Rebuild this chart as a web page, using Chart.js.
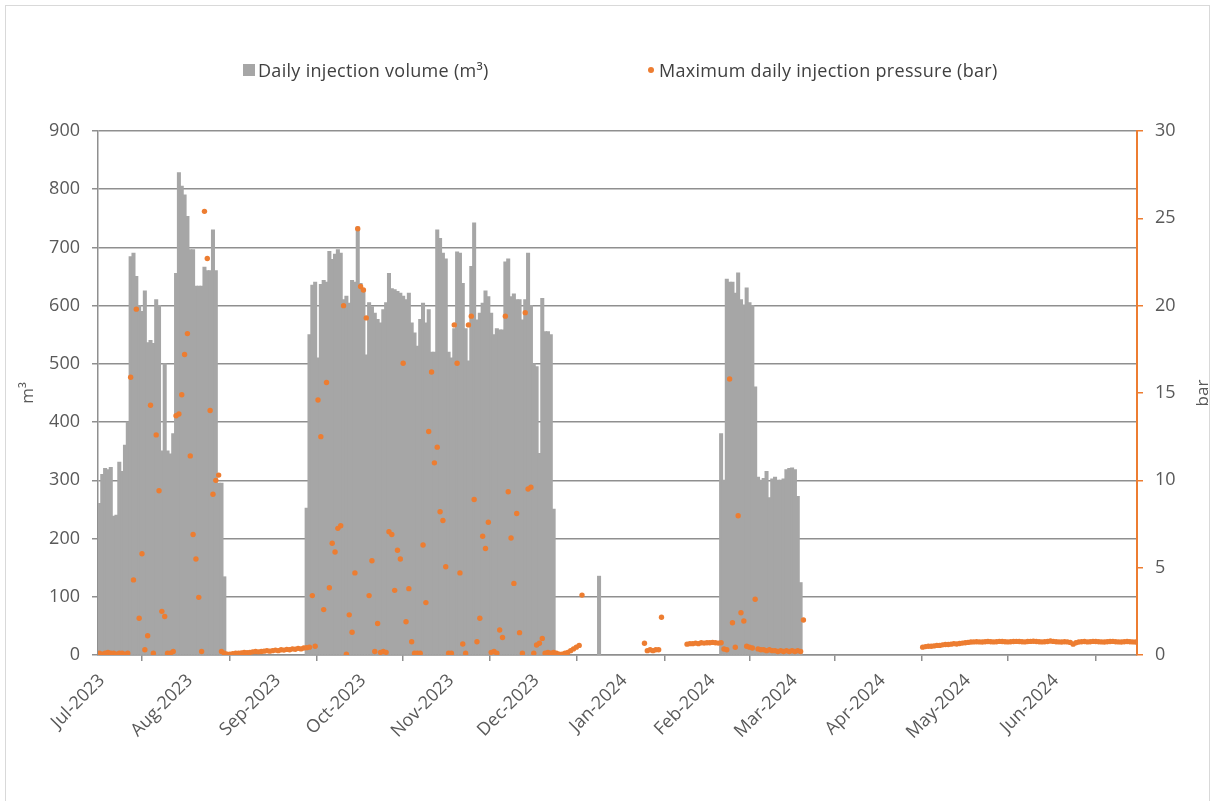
<!DOCTYPE html>
<html>
<head>
<meta charset="utf-8">
<script src="https://cdn.jsdelivr.net/npm/chart.js@4.4.1/dist/chart.umd.min.js"></script>
<style>
  html, body { margin: 0; padding: 0; background: #ffffff; }
  #wrap { position: relative; width: 1215px; height: 801px; overflow: hidden; }
  #frame { position: absolute; left: 5px; top: 5px; width: 1205px; height: 800px; border: 1px solid #d9d9d9; box-sizing: border-box; }
  canvas { position: absolute; left: 0; top: 0; }
  #legend { position: absolute; left: 0; top: 57px; width: 1215px; height: 26px; font-family: 'Open Sans', sans-serif; font-size: 18px; letter-spacing: 0.3px; color: #404040; }
  .item { position: absolute; top: 0; line-height: 26px; white-space: nowrap; }
  .sq { position: absolute; width: 12px; height: 12px; background: #a6a6a6; top: 7px; }
  .dot { position: absolute; width: 6px; height: 6px; border-radius: 50%; background: #ed7d31; top: 10px; }
</style>
</head>
<body>
<div id="wrap">
  <div id="frame"></div>
  <canvas id="c" width="1215" height="801"></canvas>
  <div id="legend">
    <div class="sq" style="left:243px"></div>
    <div class="item" style="left:258px">Daily injection volume (m³)</div>
    <div class="dot" style="left:648px"></div>
    <div class="item" style="left:659px">Maximum daily injection pressure (bar)</div>
  </div>
</div>
<script>
// ---- tick labels / month starts (day index from 1 Jul 2023) ----
const tickLabels = ['Jul-2023','Aug-2023','Sep-2023','Oct-2023','Nov-2023','Dec-2023','Jan-2024','Feb-2024','Mar-2024','Apr-2024','May-2024','Jun-2024'];
const monthStarts = [0,31,62,92,123,153,184,215,244,275,305,336];
const N = 366;
const _ = null;

// ---- Daily injection volume (m3), one value per day, by month ----
const volJul = [260,310,320,318,322,238,240,331,315,360, 400,684,690,650,600,590,625,536,540,535, 610,600,350,500,350,345,380,655,828,805, 790];
const volAug = [753,696,696,633,633,633,666,660,660,730,660,295,295,134, _,_,_,_,_,_,_,_,_,_,_,_,_,_,_,_,_];
const volSep = [_,_,_,_,_,_,_,_,_,_,_, 252,550,635,640,510,636,643,640,693,679,688,696,690,610,616,604,643,640,735];
const volOct = [638,627,515,605,598,587,576,570,593,605, 655,629,627,624,621,616,610,621,570,553, 530,576,604,570,593,520,520,730,715,690, 680];
const volNov = [520,510,560,692,690,638,560,505,667,742, 575,587,604,625,615,587,550,560,558,558, 675,680,615,620,610,610,575,610,690,600];
const volDec = [500,495,346,612,555,555,550,250, _,_,_,_,_,_,_,_,_,_,_,_,_,_,_, 135, _,_,_,_,_,_,_];
const volJan = new Array(31).fill(null);
const volFeb = [_,_,_,_, 380,300,645,640,640,621,656,610,601,630, 605,600,460,305,300,303,315,270,302,305, 300,300,302,318,320];
const volMar = [321,318,272,124, _,_,_,_,_,_,_,_,_,_,_,_,_,_,_,_,_,_,_,_,_,_,_,_,_,_,_];
const volApr = new Array(30).fill(null);
const volMay = new Array(31).fill(null);
const volJun = new Array(30).fill(null);

// ---- Maximum daily injection pressure (bar), one value per day, by month ----
const prsJul = [0.1,0.05,0.1,0.15,0.1,0.1,0.05,0.1,0.1,0.05, 0.1,15.9,4.3,19.8,2.1,5.8,0.3,1.1,14.3,0.1, 12.6,9.4,2.5,2.2,0.1,0.1,0.2,13.7,13.8,14.9, 17.2];
const prsAug = [18.4,11.4,6.9,5.5,3.3,0.2,25.4,22.7,14.0,9.2, 10.0,10.3,0.2,0.1,0.05,0.05,0.08,0.1,0.1,0.12, 0.15,0.13,0.15,0.18,0.2,0.18,0.2,0.22,0.25,0.22, 0.25];
const prsSep = [0.28,0.25,0.3,0.28,0.32,0.3,0.35,0.33,0.38,0.35, 0.4,0.42,0.45,3.4,0.5,14.6,12.5,2.6,15.6,3.85, 6.4,5.9,7.25,7.4,20.0,0.05,2.3,1.3,4.7,24.4];
const prsOct = [21.1,20.9,19.3,3.4,5.4,0.2,1.8,0.15,0.2,0.15, 7.06,6.9,3.7,6.0,5.5,16.7,1.9,3.8,0.76,0.1, 0.1,0.1,6.3,3.0,12.8,16.2,11.0,11.9,8.2,7.7, 5.05];
const prsNov = [0.1,0.1,18.9,16.7,4.7,0.63,0.1,18.9,19.4,8.9, 0.76,2.1,6.8,6.1,7.6,0.15,0.2,0.1,1.43,1.0, 19.4,9.35,6.7,4.1,8.1,1.28,0.1,19.6,9.5,9.6];
const prsDec = [0.1,0.57,0.67,0.95,0.1,0.15,0.1,0.15,0.1,0.05, 0.05,0.1,0.15,0.25,0.35,0.45,0.55,3.43, _,_,_,_,_,_,_,_,_,_,_,_,_];
const prsJan = [_,_,_,_,_,_,_,_, 0.67,0.25,0.3,0.25,0.3,0.3,2.16, _,_,_,_,_,_,_,_, 0.62,0.65,0.65,0.68,0.65,0.7,0.68,0.7];
const prsFeb = [0.7,0.72,0.7,0.68,0.7,0.34,0.3,15.8,1.85,0.44, 7.97,2.42,1.95,0.5,0.45,0.4,3.19,0.35,0.3,0.3, 0.25,0.3,0.25,0.25,0.2,0.25,0.2,0.25,0.2];
const prsMar = [0.25,0.2,0.25,0.2,2.0, _,_,_,_,_,_,_,_,_,_,_,_,_,_,_,_,_,_,_,_,_,_,_,_,_,_];
const prsApr = [_,_,_,_,_,_,_,_,_,_,_,_,_,_,_, 0.45,0.48,0.5,0.5,0.52,0.55,0.55,0.58,0.6,0.6, 0.62,0.65,0.63,0.66,0.68];
const prsMay = [0.7,0.72,0.74,0.75,0.76,0.75,0.74,0.76,0.77,0.76, 0.75,0.76,0.78,0.77,0.76,0.75,0.76,0.77,0.78,0.77, 0.76,0.75,0.77,0.78,0.79,0.77,0.76,0.75,0.76,0.77, 0.8];
const prsJun = [0.78,0.76,0.75,0.74,0.76,0.75,0.72,0.62,0.7,0.74, 0.76,0.77,0.75,0.76,0.78,0.77,0.76,0.75,0.74,0.76, 0.77,0.78,0.76,0.75,0.74,0.76,0.77,0.76,0.75,0.74];

const volume = [].concat(volJul,volAug,volSep,volOct,volNov,volDec,volJan,volFeb,volMar,volApr,volMay,volJun);
const pressure = [].concat(prsJul,prsAug,prsSep,prsOct,prsNov,prsDec,prsJan,prsFeb,prsMar,prsApr,prsMay,prsJun);

const volumePts = [];
volume.forEach((v, i) => { if (v !== null) volumePts.push({ x: i + 0.5, y: v }); });
const pressurePts = [];
pressure.forEach((p, i) => { if (p !== null) pressurePts.push({ x: i + 0.5, y: p }); });

const ORANGE = '#ed7d31';
const GRID = '#8f8f8f';
const TXT = '#595959';
const XFONT = { family: "'Open Sans', sans-serif", size: 18 };
const YFONT = { family: "'Open Sans', sans-serif", size: 18 };

const axisTitles = {
  id: 'axisTitles',
  afterDraw(chart) {
    const c = chart.ctx;
    const a = chart.chartArea;
    const cy = (a.top + a.bottom) / 2;
    c.save();
    c.fillStyle = TXT;
    c.font = "17px 'Open Sans', sans-serif";
    c.textAlign = 'center';
    c.textBaseline = 'middle';
    c.translate(28, cy); c.rotate(-Math.PI / 2); c.fillText('m³', 0, 0);
    c.restore();
    c.save();
    c.fillStyle = TXT;
    c.font = "17px 'Open Sans', sans-serif";
    c.textAlign = 'center';
    c.textBaseline = 'middle';
    c.translate(1203, cy); c.rotate(-Math.PI / 2); c.fillText('bar', 0, 0);
    c.restore();
  }
};

new Chart(document.getElementById('c'), {
  type: 'bar',
  data: {
    datasets: [
      { type: 'scatter', label: 'Maximum daily injection pressure (bar)', data: pressurePts, yAxisID: 'y1', xAxisID: 'x',
        backgroundColor: ORANGE, borderColor: ORANGE, pointRadius: 2.7, pointBorderWidth: 0, order: 0 },
      { type: 'bar', label: 'Daily injection volume (m³)', data: volumePts, yAxisID: 'y', xAxisID: 'x',
        backgroundColor: '#a6a6a6', borderWidth: 0, inflateAmount: 0.6, categoryPercentage: 1.0, barPercentage: 1.0, order: 1 }
    ]
  },
  options: {
    responsive: false,
    animation: false,
    devicePixelRatio: 1,
    layout: { padding: { top: 131, left: 0, right: 0, bottom: 0 } },
    plugins: { legend: { display: false }, tooltip: { enabled: false } },
    scales: {
      x: {
        type: 'linear', min: 0, max: N, offset: false,
        afterBuildTicks: s => { s.ticks = monthStarts.map(v => ({ value: v })); },
        afterFit: s => { s.height = 146; },
        grid: { drawOnChartArea: false, drawTicks: true, tickLength: 6, color: GRID, lineWidth: 1.5 },
        border: { color: GRID, width: 1.5 },
        ticks: { autoSkip: false, minRotation: 45, maxRotation: 45, padding: 9, labelOffset: 4, color: TXT, font: XFONT,
                 callback: (v, i) => tickLabels[i] }
      },
      y: {
        position: 'left', min: 0, max: 900,
        afterFit: s => { s.width = 98; },
        grid: { color: GRID, lineWidth: 1.5, drawTicks: true, tickLength: 6 },
        border: { color: GRID, width: 1.5 },
        ticks: { stepSize: 100, padding: 12, color: TXT, font: YFONT }
      },
      y1: {
        position: 'right', min: 0, max: 30,
        afterFit: s => { s.width = 78; },
        grid: { drawOnChartArea: false, color: ORANGE, lineWidth: 1.5, drawTicks: true, tickLength: 6 },
        border: { color: ORANGE, width: 2 },
        ticks: { stepSize: 5, padding: 12, color: TXT, font: YFONT }
      }
    }
  },
  plugins: [axisTitles]
});
</script>
</body>
</html>
